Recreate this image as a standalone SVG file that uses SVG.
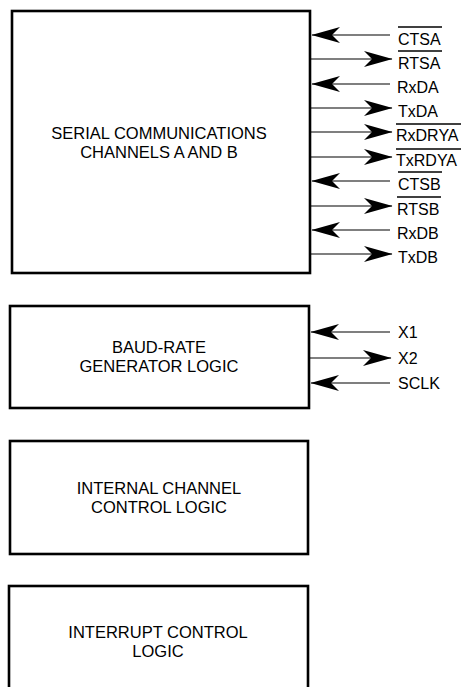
<svg xmlns="http://www.w3.org/2000/svg" width="462" height="687" viewBox="0 0 462 687">
<style>
.box{fill:#fff;stroke:#000;stroke-width:2.6}
.t{font-family:"Liberation Sans",Arial,sans-serif;font-size:16.5px;fill:#000;text-anchor:middle}
.lbl{font-family:"Liberation Sans",Arial,sans-serif;font-size:16px;fill:#000}
.w{stroke:#000;stroke-width:1.2;fill:none}
.ob{stroke:#000;stroke-width:1.3}
</style>
<defs>
<marker id="ah" markerUnits="userSpaceOnUse" markerWidth="34" markerHeight="20" viewBox="-32 -10 34 20" refX="0" refY="0" orient="auto">
<path d="M0.5,0 L-28,-8 L-20,0 L-28,8 Z" fill="#000"/>
</marker>
</defs>
<rect width="462" height="687" fill="#fff"/>
<g id="serial">
<rect class="box" x="12" y="11" width="298" height="262"/>
<text class="t" x="159" y="139">SERIAL COMMUNICATIONS</text>
<text class="t" x="159" y="158">CHANNELS A AND B</text>
</g>
<g id="baud">
<rect class="box" x="10" y="306" width="299" height="102"/>
<text class="t" x="159" y="353">BAUD-RATE</text>
<text class="t" x="159" y="372">GENERATOR LOGIC</text>
</g>
<g id="internal">
<rect class="box" x="10" y="441" width="298" height="113"/>
<text class="t" x="159" y="494">INTERNAL CHANNEL</text>
<text class="t" x="159" y="513">CONTROL LOGIC</text>
</g>
<g id="interrupt">
<rect class="box" x="9" y="586" width="299" height="110"/>
<text class="t" x="158" y="638">INTERRUPT CONTROL</text>
<text class="t" x="158" y="657">LOGIC</text>
</g>
<g id="connectors">
<line class="w" x1="390" y1="35" x2="312" y2="35" marker-end="url(#ah)"/>
<line class="w" x1="311" y1="59" x2="392" y2="59" marker-end="url(#ah)"/>
<line class="w" x1="390" y1="84" x2="312" y2="84" marker-end="url(#ah)"/>
<line class="w" x1="311" y1="108" x2="392" y2="108" marker-end="url(#ah)"/>
<line class="w" x1="311" y1="132" x2="392" y2="132" marker-end="url(#ah)"/>
<line class="w" x1="311" y1="157" x2="392" y2="157" marker-end="url(#ah)"/>
<line class="w" x1="390" y1="181" x2="312" y2="181" marker-end="url(#ah)"/>
<line class="w" x1="311" y1="206" x2="392" y2="206" marker-end="url(#ah)"/>
<line class="w" x1="390" y1="230" x2="312" y2="230" marker-end="url(#ah)"/>
<line class="w" x1="311" y1="254" x2="392" y2="254" marker-end="url(#ah)"/>
<line class="w" x1="390" y1="332" x2="311" y2="332" marker-end="url(#ah)"/>
<line class="w" x1="310" y1="358" x2="391" y2="358" marker-end="url(#ah)"/>
<line class="w" x1="390" y1="383" x2="311" y2="383" marker-end="url(#ah)"/>
</g>
<g id="labels">
<text class="lbl" x="398" y="45">CTSA</text>
<line class="ob" x1="398" y1="27" x2="442" y2="27"/>
<text class="lbl" x="398" y="69">RTSA</text>
<line class="ob" x1="398" y1="51" x2="442" y2="51"/>
<text class="lbl" x="397" y="93">RxDA</text>
<text class="lbl" x="398" y="117">TxDA</text>
<text class="lbl" x="396" y="141">RxDRYA</text>
<line class="ob" x1="396" y1="124" x2="461" y2="124"/>
<text class="lbl" x="396" y="166">TxRDYA</text>
<line class="ob" x1="396" y1="149" x2="461" y2="149"/>
<text class="lbl" x="398" y="190">CTSB</text>
<line class="ob" x1="398" y1="172" x2="442" y2="172"/>
<text class="lbl" x="397" y="215">RTSB</text>
<line class="ob" x1="397" y1="197" x2="441" y2="197"/>
<text class="lbl" x="397" y="239">RxDB</text>
<text class="lbl" x="398" y="263">TxDB</text>
<text class="lbl" x="398" y="338">X1</text>
<text class="lbl" x="398" y="364">X2</text>
<text class="lbl" x="398" y="389">SCLK</text>
</g>
</svg>
